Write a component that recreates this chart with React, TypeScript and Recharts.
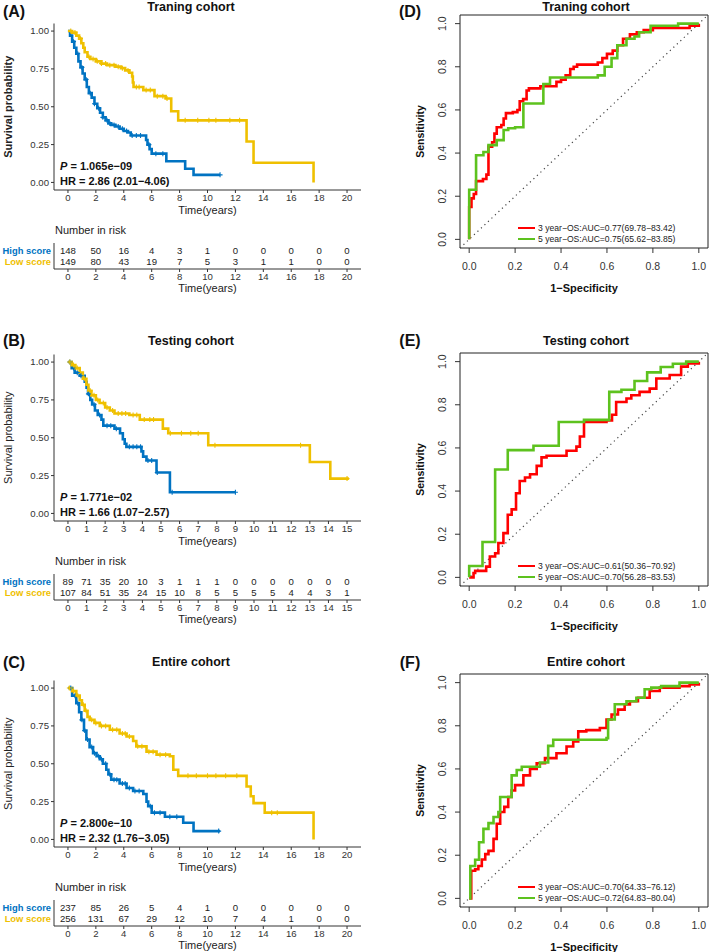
import React from "react";
import {
  ComposedChart,
  Line,
  XAxis,
  YAxis,
  ReferenceArea,
  ReferenceLine,
} from "recharts";

const FONT = "'Liberation Sans', Arial, Helvetica, sans-serif";
const BLUE = "#0073C2";
const GOLD = "#EFC000";
const RED = "#FF0000";
const GREEN = "#5DC21E";
const AXIS = "#333333";

// ---- Kaplan-Meier curves, [years, survival] ----
const trainHigh = [
  [0, 1], [0.15, 0.97], [0.3, 0.93], [0.45, 0.89], [0.6, 0.85], [0.75, 0.8], [0.9, 0.76],
  [1.05, 0.72], [1.2, 0.68], [1.35, 0.63], [1.5, 0.59], [1.7, 0.56], [1.9, 0.52], [2.1, 0.49],
  [2.3, 0.46], [2.5, 0.43], [2.7, 0.41], [2.9, 0.39], [3.1, 0.38], [3.4, 0.37], [3.7, 0.355],
  [4.0, 0.34], [4.3, 0.33], [4.5, 0.31], [5.6, 0.28], [5.7, 0.25], [5.85, 0.22], [6.0, 0.19],
  [7.05, 0.14], [8.4, 0.09], [9.0, 0.05], [10.9, 0.05],
];
const trainLow = [
  [0, 1], [0.3, 0.99], [0.6, 0.97], [0.8, 0.95], [0.96, 0.92], [1.1, 0.89], [1.2, 0.86],
  [1.4, 0.83], [1.6, 0.815], [2.0, 0.8], [2.4, 0.785], [2.8, 0.775], [3.4, 0.765], [3.8, 0.755],
  [4.1, 0.74], [4.4, 0.725], [4.6, 0.7], [4.65, 0.66], [4.7, 0.63], [5.4, 0.61], [6.2, 0.57],
  [7.0, 0.555], [7.4, 0.47], [7.9, 0.41], [12.8, 0.27], [13.3, 0.13], [17.6, 0],
];
const testHigh = [
  [0, 1], [0.2, 0.96], [0.36, 0.93], [0.63, 0.91], [0.9, 0.87], [1.0, 0.83], [1.08, 0.79],
  [1.2, 0.75], [1.3, 0.72], [1.45, 0.68], [1.6, 0.65], [1.8, 0.62], [1.9, 0.58], [2.5, 0.56],
  [2.8, 0.53], [2.95, 0.49], [3.05, 0.46], [3.14, 0.44], [3.95, 0.41], [4.04, 0.375],
  [4.22, 0.35], [4.76, 0.27], [5.48, 0.14], [8.98, 0.14],
];
const testLow = [
  [0, 1], [0.2, 0.98], [0.4, 0.96], [0.63, 0.93], [0.8, 0.89], [0.99, 0.85], [1.1, 0.81],
  [1.26, 0.78], [1.5, 0.75], [1.7, 0.73], [2.0, 0.7], [2.25, 0.68], [2.5, 0.66], [3.3, 0.65],
  [3.86, 0.62], [5.1, 0.56], [5.39, 0.53], [7.54, 0.45], [13.0, 0.34], [14.1, 0.23], [15.1, 0.23],
];
const allHigh = [
  [0, 1], [0.3, 0.95], [0.6, 0.9], [0.8, 0.84], [0.96, 0.79], [1.15, 0.72], [1.32, 0.66],
  [1.55, 0.61], [1.8, 0.57], [2.05, 0.55], [2.28, 0.53], [2.5, 0.5], [2.75, 0.46], [2.9, 0.43],
  [3.1, 0.395], [3.7, 0.37], [4.2, 0.34], [4.67, 0.32], [5.4, 0.3], [5.63, 0.25], [5.75, 0.22],
  [6.0, 0.177], [6.95, 0.15], [8.26, 0.11], [9.0, 0.055], [10.9, 0.055],
];
const allLow = [
  [0, 1], [0.3, 0.98], [0.6, 0.95], [0.84, 0.92], [1.0, 0.89], [1.2, 0.85], [1.4, 0.81],
  [1.56, 0.79], [1.9, 0.77], [2.28, 0.75], [3.0, 0.725], [3.7, 0.7], [4.2, 0.68], [4.67, 0.65],
  [4.9, 0.615], [5.63, 0.58], [6.35, 0.56], [7.3, 0.55], [7.55, 0.46], [7.9, 0.42], [12.8, 0.35],
  [13.1, 0.285], [13.3, 0.24], [14.1, 0.177], [17.6, 0],
];

// censoring times (years)
const trainHighCens = [0.4, 0.7, 1.0, 1.3, 1.6, 1.9, 2.2, 2.5, 2.8, 3.0, 3.3, 3.6, 3.9, 4.2, 4.6, 4.9, 5.2, 5.8, 6.3, 6.8, 10.9];
const trainLowCens = [0.2, 0.5, 0.9, 1.5, 1.8, 2.1, 2.4, 2.7, 3.0, 3.3, 3.6, 3.9, 4.3, 4.9, 5.1, 5.6, 5.9, 6.4, 6.8, 7.1, 8.4, 9.3, 10.1, 10.6, 11.6, 12.3];
const testHighCens = [0.1, 0.3, 0.5, 0.7, 1.1, 1.4, 1.7, 2.1, 2.3, 2.6, 3.3, 3.5, 3.7, 3.9, 4.3, 4.5, 4.8, 5.6, 9.0];
const testLowCens = [0.1, 0.3, 0.5, 0.9, 1.2, 1.4, 1.6, 1.9, 2.1, 2.4, 2.7, 2.9, 3.1, 3.5, 3.7, 4.1, 4.4, 4.6, 5.5, 6.1, 6.6, 7.0, 7.9, 12.5, 15.0];
const allHighCens = [0.2, 0.5, 0.7, 1.0, 1.2, 1.4, 1.7, 1.9, 2.2, 2.4, 2.7, 3.0, 3.3, 3.5, 3.9, 4.1, 4.4, 4.8, 5.1, 5.9, 6.2, 6.6, 7.3, 7.8, 10.8];
const allLowCens = [0.1, 0.4, 0.7, 1.1, 1.3, 1.7, 2.0, 2.4, 2.7, 3.2, 3.5, 3.9, 4.1, 4.4, 5.0, 5.3, 5.8, 6.1, 6.6, 7.0, 8.6, 9.2, 10.0, 10.6, 11.3, 12.1, 14.6, 15.0];

// ---- number at risk ----
const ticks20 = [0, 2, 4, 6, 8, 10, 12, 14, 16, 18, 20];
const ticks15 = [0, 1, 2, 3, 4, 5, 6, 7, 8, 9, 10, 11, 12, 13, 14, 15];
const riskGroups = ["Low score", "High score"];
const trainRiskHigh = [148, 50, 16, 4, 3, 1, 0, 0, 0, 0, 0];
const trainRiskLow = [149, 80, 43, 19, 7, 5, 3, 1, 1, 0, 0];
const testRiskHigh = [89, 71, 35, 20, 10, 3, 1, 1, 1, 0, 0, 0, 0, 0, 0, 0];
const testRiskLow = [107, 84, 51, 35, 24, 15, 10, 8, 5, 5, 5, 5, 4, 4, 3, 1];
const allRiskHigh = [237, 85, 26, 5, 4, 1, 0, 0, 0, 0, 0];
const allRiskLow = [256, 131, 67, 29, 12, 10, 7, 4, 1, 0, 0];

// ---- ROC curves, [1-specificity, sensitivity] ----
const rocTicks = [0, 0.2, 0.4, 0.6, 0.8, 1];
const trainRoc3 = [
  [0, 0], [0, 0.15], [0.01, 0.19], [0.02, 0.21], [0.03, 0.27], [0.06, 0.28], [0.075, 0.3],
  [0.084, 0.43], [0.1, 0.45], [0.11, 0.49], [0.12, 0.52], [0.14, 0.53], [0.15, 0.56],
  [0.16, 0.585], [0.19, 0.59], [0.21, 0.6], [0.22, 0.64], [0.235, 0.65], [0.25, 0.69],
  [0.26, 0.7], [0.31, 0.71], [0.38, 0.73], [0.4, 0.74], [0.42, 0.76], [0.44, 0.79],
  [0.455, 0.8], [0.47, 0.81], [0.56, 0.82], [0.58, 0.84], [0.6, 0.86], [0.625, 0.875],
  [0.645, 0.9], [0.67, 0.93], [0.7, 0.95], [0.73, 0.96], [0.76, 0.97], [0.8, 0.98],
  [0.96, 0.99], [1, 1],
];
const trainRoc5 = [
  [0, 0], [0, 0.23], [0.03, 0.39], [0.062, 0.405], [0.084, 0.437], [0.12, 0.46], [0.15, 0.507],
  [0.17, 0.515], [0.2, 0.52], [0.236, 0.63], [0.323, 0.72], [0.352, 0.75], [0.56, 0.76],
  [0.59, 0.8], [0.62, 0.84], [0.645, 0.9], [0.685, 0.93], [0.72, 0.94], [0.74, 0.96],
  [0.79, 0.99], [0.91, 1], [1, 1],
];
const testRoc3 = [
  [0, 0], [0.019, 0.02], [0.026, 0.03], [0.074, 0.05], [0.09, 0.097], [0.113, 0.112],
  [0.127, 0.159], [0.149, 0.205], [0.168, 0.29], [0.185, 0.315], [0.204, 0.39], [0.22, 0.447],
  [0.243, 0.463], [0.265, 0.478], [0.294, 0.517], [0.315, 0.556], [0.337, 0.564], [0.424, 0.587],
  [0.467, 0.606], [0.482, 0.653], [0.5, 0.72], [0.598, 0.727], [0.622, 0.754], [0.64, 0.813],
  [0.685, 0.829], [0.706, 0.844], [0.742, 0.86], [0.786, 0.875], [0.815, 0.922], [0.873, 0.938],
  [0.923, 0.977], [0.952, 0.992], [1, 1],
];
const testRoc5 = [
  [0, 0], [0, 0.053], [0.058, 0.164], [0.113, 0.5], [0.168, 0.59], [0.28, 0.61], [0.39, 0.72],
  [0.5, 0.73], [0.61, 0.86], [0.663, 0.87], [0.72, 0.91], [0.775, 0.95], [0.834, 0.975],
  [0.887, 0.99], [0.945, 1], [1, 1],
];
const allRoc3 = [
  [0, 0], [0.009, 0.128], [0.026, 0.135], [0.04, 0.15], [0.055, 0.18], [0.07, 0.205],
  [0.084, 0.22], [0.106, 0.276], [0.12, 0.346], [0.135, 0.4], [0.153, 0.424], [0.17, 0.47],
  [0.185, 0.5], [0.2, 0.525], [0.236, 0.57], [0.265, 0.6], [0.294, 0.626], [0.33, 0.65],
  [0.38, 0.673], [0.424, 0.704], [0.453, 0.727], [0.475, 0.774], [0.51, 0.78], [0.569, 0.79],
  [0.598, 0.829], [0.62, 0.852], [0.648, 0.875], [0.677, 0.899], [0.7, 0.914], [0.735, 0.93],
  [0.786, 0.961], [0.83, 0.977], [0.916, 0.984], [0.96, 0.992], [1, 1],
];
const allRoc5 = [
  [0, 0], [0.005, 0.15], [0.026, 0.179], [0.043, 0.26], [0.062, 0.322], [0.084, 0.349],
  [0.106, 0.377], [0.127, 0.4], [0.135, 0.47], [0.185, 0.57], [0.207, 0.595], [0.229, 0.61],
  [0.308, 0.63], [0.344, 0.707], [0.366, 0.735], [0.598, 0.743], [0.605, 0.829], [0.634, 0.9],
  [0.685, 0.914], [0.728, 0.93], [0.764, 0.969], [0.793, 0.977], [0.836, 0.984], [0.916, 1],
  [1, 1],
];
const trainAuc = ["3 year−OS:AUC=0.77(69.78−83.42)", "5 year−OS:AUC=0.75(65.62−83.85)"];
const testAuc = ["3 year−OS:AUC=0.61(50.36−70.92)", "5 year−OS:AUC=0.70(56.28−83.53)"];
const allAuc = ["3 year−OS:AUC=0.70(64.33−76.12)", "5 year−OS:AUC=0.72(64.83−80.04)"];

const toPts = (arr: number[][]) => arr.map(([t, s]) => ({ t, s }));
const survAt = (curve: number[][], t: number) => {
  let s = 1;
  for (const [ct, cs] of curve) {
    if (ct <= t) s = cs;
    else break;
  }
  return s;
};
const censorPts = (curve: number[][], times: number[]) =>
  times.map((t) => ({ t, s: survAt(curve, t) }));

const plusDot = (color: string) => (p: any) => {
  const { cx, cy, index } = p;
  if (cx == null || cy == null) return <g key={index} />;
  return (
    <path
      key={index}
      d={`M${cx - 2.5},${cy}h5M${cx},${cy - 2.5}v5`}
      stroke={color}
      strokeWidth={1.1}
    />
  );
};

const riskDot = (p: any) => {
  const { cx, cy, index, payload } = p;
  return (
    <text
      key={index}
      x={cx}
      y={cy}
      textAnchor="middle"
      dominantBaseline="central"
      fontSize={9.6}
      fill="#222"
      fontFamily={FONT}
    >
      {payload.n}
    </text>
  );
};

const RiskTick = (p: any) => {
  const { x, y, payload } = p;
  return (
    <text
      x={x}
      y={y}
      textAnchor="end"
      dominantBaseline="central"
      fontSize={9.4}
      fontWeight={700}
      fill={payload.value === 1 ? BLUE : GOLD}
      fontFamily={FONT}
    >
      {riskGroups[payload.value]}
    </text>
  );
};

const RocYTick = (p: any) => {
  const { x, y, payload } = p;
  const cx = x - 13;
  return (
    <text
      x={cx}
      y={y}
      dy="0.355em"
      transform={`rotate(-90 ${cx} ${y})`}
      textAnchor="middle"
      fontSize={10.5}
      fill="#333"
      fontFamily={FONT}
    >
      {payload.value.toFixed(1)}
    </text>
  );
};

function Txt({ x, y, size, bold, children, align = "center", color = "#111" }: any) {
  return (
    <div
      style={{
        position: "absolute",
        left: x,
        top: y,
        transform: align === "center" ? "translate(-50%, -50%)" : "translate(0, -50%)",
        fontSize: size,
        fontWeight: bold ? 700 : 400,
        lineHeight: 1.1,
        whiteSpace: "nowrap",
        color,
      }}
    >
      {children}
    </div>
  );
}

const tickStyle = { fontSize: 9.6, fill: "#333", fontFamily: FONT };

function KmPanel(props: any) {
  const { base, letter, title, letterY, titleY, high, low, highCens, lowCens, ticks, p, hr, yBold, riskHigh, riskLow } = props;
  const max = ticks[ticks.length - 1];
  const dom = [-max * 0.05, max * 1.05];
  const xLabel = { value: "Time(years)", position: "insideBottom", offset: 0, fontSize: 11, fill: "#222", fontFamily: FONT };
  const hiRisk = ticks.map((t: number, i: number) => ({ t, y: 1, n: riskHigh[i] }));
  const loRisk = ticks.map((t: number, i: number) => ({ t, y: 0, n: riskLow[i] }));
  return (
    <>
      <Txt x={14} y={base + letterY} size={16} bold>{letter}</Txt>
      <Txt x={191} y={base + titleY} size={12.5} bold>{title}</Txt>
      <div style={{ position: "absolute", left: 0, top: base }}>
        <ComposedChart width={370} height={218} margin={{ top: 23.5, right: 9, bottom: 4, left: 0 }}>
          <XAxis
            type="number"
            dataKey="t"
            domain={dom}
            ticks={ticks}
            interval={0}
            allowDataOverflow
            tickSize={3}
            tickMargin={1}
            stroke={AXIS}
            tick={tickStyle}
            height={24}
            label={xLabel}
          />
          <YAxis
            type="number"
            domain={[-0.05, 1.05]}
            ticks={[0, 0.25, 0.5, 0.75, 1]}
            interval={0}
            allowDataOverflow
            tickFormatter={(v: number) => v.toFixed(2)}
            width={54}
            tickSize={3}
            tickMargin={2}
            stroke={AXIS}
            tick={tickStyle}
            label={{
              value: "Survival probability",
              angle: -90,
              position: "insideLeft",
              offset: 8.5,
              style: { textAnchor: "middle" },
              fontSize: 11,
              fontWeight: yBold ? 700 : 400,
              fill: "#222",
              fontFamily: FONT,
            }}
          />
          <Line data={toPts(high)} dataKey="s" type="stepAfter" stroke={BLUE} strokeWidth={2.6} dot={false} activeDot={false} isAnimationActive={false} />
          <Line data={toPts(low)} dataKey="s" type="stepAfter" stroke={GOLD} strokeWidth={2.6} dot={false} activeDot={false} isAnimationActive={false} />
          <Line data={censorPts(high, highCens)} dataKey="s" stroke="none" dot={plusDot(BLUE)} activeDot={false} isAnimationActive={false} />
          <Line data={censorPts(low, lowCens)} dataKey="s" stroke="none" dot={plusDot(GOLD)} activeDot={false} isAnimationActive={false} />
        </ComposedChart>
      </div>
      <Txt x={60} y={base + 166} size={11} bold align="left">
        <span style={{ fontStyle: "italic" }}>P</span> = {p}
      </Txt>
      <Txt x={60} y={base + 181} size={11} bold align="left">{hr}</Txt>
      <Txt x={55} y={base + 230} size={11} align="left" color="#222">Number in risk</Txt>
      <div style={{ position: "absolute", left: 0, top: base + 240 }}>
        <ComposedChart width={370} height={56} margin={{ top: 3, right: 9, bottom: 4, left: 0 }}>
          <XAxis
            type="number"
            dataKey="t"
            domain={dom}
            ticks={ticks}
            interval={0}
            allowDataOverflow
            tickSize={3}
            tickMargin={1}
            stroke={AXIS}
            tick={tickStyle}
            height={23}
            label={xLabel}
          />
          <YAxis
            type="number"
            dataKey="y"
            domain={[-0.6, 1.6]}
            ticks={[0, 1]}
            interval={0}
            width={54}
            tickLine={false}
            tickSize={0}
            tickMargin={3}
            stroke={AXIS}
            tick={<RiskTick />}
          />
          <Line data={hiRisk} dataKey="y" stroke="none" dot={riskDot} activeDot={false} isAnimationActive={false} />
          <Line data={loRisk} dataKey="y" stroke="none" dot={riskDot} activeDot={false} isAnimationActive={false} />
        </ComposedChart>
      </div>
    </>
  );
}

function RocPanel(props: any) {
  const { base, letter, title, letterY, titleY, roc3, roc5, auc } = props;
  const colors = [RED, GREEN];
  return (
    <>
      <Txt x={410} y={base + letterY} size={16} bold>{letter}</Txt>
      <Txt x={586} y={base + titleY} size={12.5} bold>{title}</Txt>
      <div style={{ position: "absolute", left: 400, top: base }}>
        <ComposedChart width={309} height={296} margin={{ top: 15, right: 1, bottom: 4, left: 0 }}>
          <XAxis
            type="number"
            dataKey="x"
            domain={[-0.04, 1.04]}
            ticks={rocTicks}
            interval={0}
            allowDataOverflow
            axisLine={false}
            tickSize={5}
            tickMargin={10}
            stroke={AXIS}
            tick={{ fontSize: 10.5, fill: "#333", fontFamily: FONT }}
            tickFormatter={(v: number) => v.toFixed(1)}
            height={44}
            label={{ value: "1−Specificity", position: "insideBottom", offset: 0, fontSize: 11, fontWeight: 700, fill: "#111", fontFamily: FONT }}
          />
          <YAxis
            type="number"
            dataKey="y"
            domain={[-0.04, 1.04]}
            ticks={rocTicks}
            interval={0}
            allowDataOverflow
            axisLine={false}
            width={60}
            tickSize={5}
            tickMargin={0}
            stroke={AXIS}
            tick={<RocYTick />}
            label={{
              value: "Sensitivity",
              angle: -90,
              position: "insideLeft",
              offset: 20,
              style: { textAnchor: "middle" },
              fontSize: 10.5,
              fontWeight: 700,
              fill: "#111",
              fontFamily: FONT,
            }}
          />
          <ReferenceArea x1={-0.04} x2={1.04} y1={-0.04} y2={1.04} fill="none" fillOpacity={0} stroke="#222" strokeWidth={1} ifOverflow="visible" />
          <ReferenceLine
            segment={[{ x: -0.04, y: -0.04 }, { x: 1.04, y: 1.04 }]}
            stroke="#444"
            strokeWidth={1.2}
            strokeDasharray="1.2 3.6"
            ifOverflow="visible"
          />
          <Line data={roc3.map(([x, y]: number[]) => ({ x, y }))} dataKey="y" type="stepAfter" stroke={RED} strokeWidth={2.6} dot={false} activeDot={false} isAnimationActive={false} />
          <Line data={roc5.map(([x, y]: number[]) => ({ x, y }))} dataKey="y" type="stepAfter" stroke={GREEN} strokeWidth={2.6} dot={false} activeDot={false} isAnimationActive={false} />
        </ComposedChart>
      </div>
      <div style={{ position: "absolute", left: 518, top: base + 222.5, fontSize: 8.6, lineHeight: "11px", color: "#222" }}>
        {auc.map((s: string, i: number) => (
          <div key={s} style={{ display: "flex", alignItems: "center", whiteSpace: "nowrap" }}>
            <span style={{ display: "inline-block", width: 17, height: 2.6, background: colors[i], marginRight: 3 }} />
            {s}
          </div>
        ))}
      </div>
    </>
  );
}

export default function App() {
  return (
    <div
      style={{
        position: "absolute",
        left: 0,
        top: 0,
        width: 709,
        height: 952,
        background: "#fff",
        fontFamily: FONT,
        overflow: "hidden",
      }}
    >
      <KmPanel
        base={0} letter="(A)" title="Traning cohort" letterY={12} titleY={7.5}
        high={trainHigh} low={trainLow} highCens={trainHighCens} lowCens={trainLowCens}
        ticks={ticks20} p={"1.065e−09"} hr={"HR = 2.86 (2.01−4.06)"} yBold
        riskHigh={trainRiskHigh} riskLow={trainRiskLow}
      />
      <KmPanel
        base={331} letter="(B)" title="Testing cohort" letterY={9.5} titleY={10.5}
        high={testHigh} low={testLow} highCens={testHighCens} lowCens={testLowCens}
        ticks={ticks15} p={"1.771e−02"} hr={"HR = 1.66 (1.07−2.57)"} yBold={false}
        riskHigh={testRiskHigh} riskLow={testRiskLow}
      />
      <KmPanel
        base={657} letter="(C)" title="Entire cohort" letterY={6} titleY={6}
        high={allHigh} low={allLow} highCens={allHighCens} lowCens={allLowCens}
        ticks={ticks20} p={"2.800e−10"} hr={"HR = 2.32 (1.76−3.05)"} yBold={false}
        riskHigh={allRiskHigh} riskLow={allRiskLow}
      />
      <RocPanel base={0} letter="(D)" title="Traning cohort" letterY={12} titleY={7.5} roc3={trainRoc3} roc5={trainRoc5} auc={trainAuc} />
      <RocPanel base={338} letter="(E)" title="Testing cohort" letterY={3} titleY={4} roc3={testRoc3} roc5={testRoc5} auc={testAuc} />
      <RocPanel base={659} letter="(F)" title="Entire cohort" letterY={4} titleY={4} roc3={allRoc3} roc5={allRoc5} auc={allAuc} />
    </div>
  );
}
